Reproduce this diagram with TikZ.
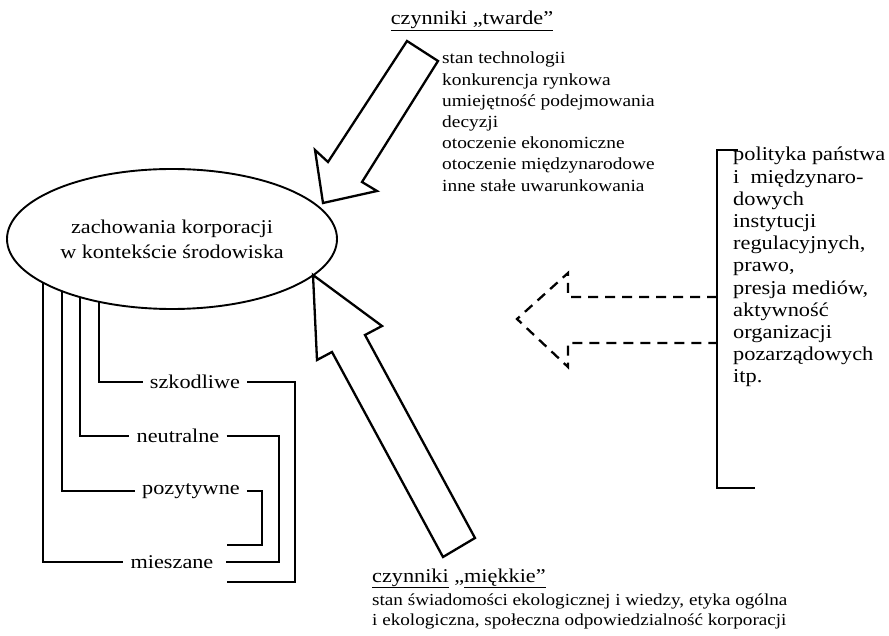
\documentclass[tikz,border=0pt]{standalone}
\usepackage{fontspec}
\setmainfont{Liberation Serif}[FakeStretch=1.14]
\usetikzlibrary{shapes.geometric, backgrounds}

\begin{document}
\begin{tikzpicture}[x=1pt,y=-1pt,
  core/.style={ellipse,draw,line width=1.9pt,fill=white,minimum width=330pt,minimum height=140pt,inner sep=0pt,align=center,font=\fontsize{19.5}{25}\selectfont},
  kind/.style={inner xsep=7pt,inner ysep=2pt,font=\fontsize{19.5}{22}\selectfont},
  head/.style={inner sep=0pt,font=\fontsize{19.5}{22}\selectfont},
  list/.style={anchor=north west,align=left,inner sep=0pt,font=\fontsize{17}{21.2}\selectfont},
  gov/.style={anchor=north west,align=left,inner sep=0pt,font=\fontsize{19.6}{22.2}\selectfont},
  bline/.style={line width=2.3pt},
  fat/.style={line width=2.3pt,line join=miter,fill=white},
  soft/.style={line width=2.3pt,dash pattern=on 10pt off 7pt}
]
  \useasboundingbox (0,0) rectangle (889,636);

  \node[core](ell) at (172,239) {zachowania korporacji\\w kontekście środowiska};

  % czynniki twarde
  \node[head,anchor=base](hardLbl) at (472,25) {\underline{czynniki „twarde”}};
  \node[list](hardList) at (442,52) {stan technologii\\konkurencja rynkowa\\umiejętność podejmowania\\decyzji\\otoczenie ekonomiczne\\otoczenie międzynarodowe\\inne stałe uwarunkowania};
  \draw[fat] (407,41) -- (438,61) -- (362,182) -- (377,191) -- (323,203) -- (315,150) -- (328,162) -- cycle;

  % czynniki miekkie
  \node[head,anchor=base west](softLbl) at (372,582) {\underline{czynniki} „\underline{miękkie”}};
  \node[list,font=\fontsize{16.8}{19.5}\selectfont](softList) at (372,594) {stan świadomości ekologicznej i wiedzy, etyka ogólna\\i ekologiczna, społeczna odpowiedzialność korporacji};
  \draw[fat] (475,538) -- (443,557) -- (332,352) -- (317,360) -- (313,275) -- (382,326) -- (365,335) -- cycle;

  % otoczenie instytucjonalne
  \node[gov](state) at (733,147) {polityka państwa\\i\ \ międzynaro-\\dowych\\instytucji\\regulacyjnych,\\prawo,\\presja mediów,\\aktywność\\organizacji\\pozarządowych\\itp.};
  \draw[bline] (738,150) -- (717,150) -- (717,488) -- (755,488);
  \draw[soft] (717,297) -- (568,297) -- (568,273) -- (517,319) -- (568,367) -- (568,343) -- (717,343);

  % rodzaje zachowan
  \node[kind](szk) at (195,382) {szkodliwe};
  \node[kind](neu) at (178,436) {neutralne};
  \node[kind](poz) at (191,491) {pozytywne};
  \node[kind](mie) at (172,562) {mieszane};
  \coordinate (szkC) at (295,582);
  \coordinate (neuC) at (279,562);
  \coordinate (pozC) at (262,545);

  \begin{scope}[on background layer]
    \draw[bline] (ell.center) ++(-73,0) |- (szk.west);
    \draw[bline] (ell.center) ++(-92,0) |- (neu.west);
    \draw[bline] (ell.center) ++(-110,0) |- (poz.west);
    \draw[bline] (ell.center) ++(-129,0) |- (mie.west);
  \end{scope}
  \draw[bline] (szk.east) -| (szkC) -- ++(-68,0);
  \draw[bline] (neu.east) -| (neuC) -- ++(-53,0);
  \draw[bline] (poz.east) -| (pozC) -- ++(-35,0);
\end{tikzpicture}
\end{document}
